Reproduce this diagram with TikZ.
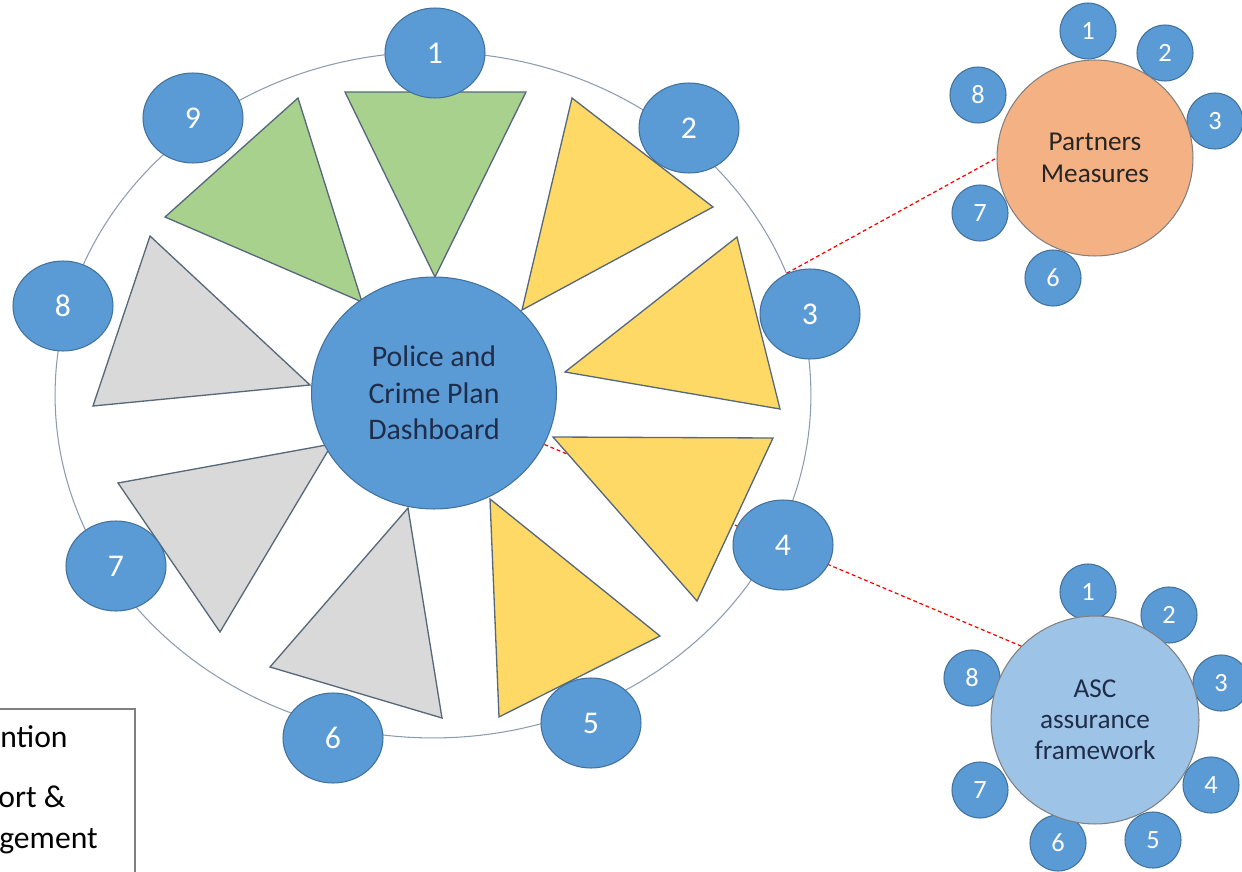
\documentclass[tikz,border=0pt]{standalone}
\usepackage{fontspec}
\setmainfont{Carlito}
\usetikzlibrary{shapes.geometric,backgrounds}

\definecolor{hubblue}{HTML}{5B9BD5}
\definecolor{hubedge}{HTML}{41719C}
\definecolor{ringline}{HTML}{8C9CB0}
\definecolor{wedgeedge}{HTML}{56687A}
\definecolor{wgreen}{HTML}{A9D18E}
\definecolor{wyellow}{HTML}{FFD966}
\definecolor{wgrey}{HTML}{D9D9D9}
\definecolor{porange}{HTML}{F4B183}
\definecolor{ascblue}{HTML}{9DC3E6}
\definecolor{navytext}{HTML}{1F2D4A}

\begin{document}
\begin{tikzpicture}[x=0.02cm,y=-0.02cm]
\tikzstyle{num}=[ellipse,draw=hubedge,fill=hubblue,line width=0.6pt,inner sep=0pt,minimum width=2cm,minimum height=1.8cm,text=white,font=\fontsize{18}{20}\selectfont]
\tikzstyle{sat}=[circle,draw=hubedge,fill=hubblue,line width=0.6pt,inner sep=0pt,minimum size=1.12cm,text=white,font=\fontsize{15}{17}\selectfont]
\tikzstyle{wedge}=[draw=wedgeedge,line width=0.75pt,line join=miter]
\tikzstyle{link}=[red,dashed,dash pattern=on 2.2pt off 1.6pt,line width=0.7pt]

\useasboundingbox (0,0) rectangle (1242,872);

% wedges round the hub
\draw[wedge,fill=wgreen]  (345,92) -- (526,92) -- (435,277) -- cycle;
\draw[wedge,fill=wgreen]  (298,98) -- (165,217) -- (362,302) -- cycle;
\draw[wedge,fill=wyellow] (572,98) -- (713,207) -- (522,310) -- cycle;
\draw[wedge,fill=wyellow] (737,237) -- (780,409) -- (565,372) -- cycle;
\draw[wedge,fill=wyellow] (553,437) -- (773,438) -- (697,601) -- cycle;
\draw[wedge,fill=wyellow] (490,499) -- (660,636) -- (499,717) -- cycle;
\draw[wedge,fill=wgrey]   (408,508) -- (442,718) -- (270,667) -- cycle;
\draw[wedge,fill=wgrey]   (118,483) -- (332,444) -- (220,632) -- cycle;
\draw[wedge,fill=wgrey]   (150,236) -- (310,385) -- (93,406) -- cycle;

\node[ellipse,draw=hubedge,fill=hubblue,line width=0.6pt,inner sep=0pt,minimum width=4.9cm,minimum height=4.64cm,align=center,text=navytext,font=\fontsize{17}{20.8}\selectfont] (db) at (434,393) {Police and\\Crime Plan\\Dashboard};

\node[num] (n1) at (435,53)  {1};
\node[num] (n2) at (689,128) {2};
\node[num] (n3) at (810,314) {3};
\node[num] (n4) at (783,545) {4};
\node[num] (n5) at (591,723) {5};
\node[num] (n6) at (333,738) {6};
\node[num] (n7) at (116,566) {7};
\node[num] (n8) at (63,306)  {8};
\node[num] (n9) at (193,118) {9};

% partners measures
\foreach \n/\x/\y in {1/1088/31,2/1165/53,3/1215/121,6/1053/278,7/980/213,8/978/95}
  \node[sat] (pm\n) at (\x,\y) {\n};
\node[circle,draw=gray,fill=porange,line width=0.6pt,inner sep=0pt,minimum size=3.92cm,align=center,text=black!85,font=\fontsize{15.5}{18.2}\selectfont] (pm) at (1095,158) {Partners\\Measures};

% asc assurance framework
\foreach \n/\x/\y in {1/1088/592,2/1169/615,3/1221/683,4/1211/785,5/1153/840,6/1058/843,7/980/790,8/972/678}
  \node[sat] (asc\n) at (\x,\y) {\n};
\node[circle,draw=gray,fill=ascblue,line width=0.6pt,inner sep=0pt,minimum size=4.16cm,align=center,text=navytext,font=\fontsize{15.5}{17.6}\selectfont] (asc) at (1095,720) {ASC\\assurance\\framework};

% legend
\draw[gray,line width=0.6pt] (-20,709) -- (135,709) -- (135,900);
\node[anchor=base west,inner sep=0pt,font=\fontsize{18}{23}\selectfont] (lg1) at (0,747) {ntion};
\node[anchor=base west,inner sep=0pt,font=\fontsize{18}{23}\selectfont] (lg2) at (-2,807) {ort \&};
\node[anchor=base west,inner sep=0pt,font=\fontsize{18}{23}\selectfont] (lg3) at (-1,848) {gement};

\begin{pgfonlayer}{background}
\node[ellipse,draw=ringline,line width=0.6pt,inner sep=0pt,minimum width=15.12cm,minimum height=13.72cm] (ring) at (433,395) {};
\draw[link] (ring.19.5) -- (pm.west);
\draw[link] (db.-25) -- (asc.135);
\end{pgfonlayer}
\end{tikzpicture}
\end{document}
